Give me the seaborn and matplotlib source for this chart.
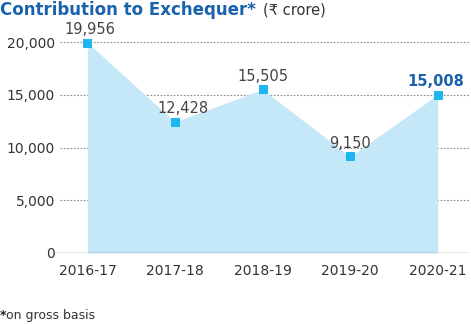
import matplotlib
matplotlib.use("Agg")
import matplotlib.pyplot as plt
import seaborn as sns
import pandas as pd

years = ["2016-17", "2017-18", "2018-19", "2019-20", "2020-21"]
values = [19956, 12428, 15505, 9150, 15008]
yticks = [0, 5000, 10000, 15000, 20000]

sns.set_theme(style="white")
plt.rcParams['font.family'] = ['DejaVu Sans']

df = pd.DataFrame({"year": years, "value": values, "x": range(len(years))})

fig = plt.figure(figsize=(4.71, 3.24), dpi=100)
ax = fig.add_axes([48/471, 1-253/324, 422/471, (253-31.5)/324])

ax.fill_between(df["x"], df["value"], 0, color="#c5e8f9", linewidth=0, zorder=1)
sns.lineplot(data=df, x="x", y="value", ax=ax, marker="s", markersize=6,
             color="#c5e8f9", linewidth=0, markerfacecolor="#1fb6ef",
             markeredgecolor="#1fb6ef", zorder=3)

ax.set_xlim(-0.45, 4.37)
ax.set_ylim(0, 21000)
for t in yticks[1:]:
    ax.axhline(t, xmin=0.028, xmax=1, color="#8a8a8a", linestyle=(0, (1.5, 1.5)), linewidth=0.8, zorder=0)
ax.axhline(0, color="#8a8a8a", linewidth=1, zorder=4)

for s in ax.spines.values():
    s.set_visible(False)
ax.set_xticks(range(len(years)))
ax.set_xticklabels(years, fontsize=10, color="#333333")
ax.set_yticks(yticks)
ax.set_yticklabels([f"{v:,}" for v in yticks], fontsize=10, color="#333333")
ax.tick_params(axis="x", length=0, pad=8)
ax.tick_params(axis="y", length=0, pad=-5)
for lab in ax.get_yticklabels():
    lab.set_horizontalalignment("right")
ax.set_xlabel("")
ax.set_ylabel("")

label_dx = [2, 6, 0, 0, -1]
for i, v in enumerate(values):
    last = i == len(values) - 1
    ax.annotate(f"{v:,}", (i, v), xytext=(label_dx[i], 4), textcoords="offset points",
                ha="center", va="bottom", fontsize=10.5,
                color="#1a62ad" if last else "#444444",
                fontweight="bold" if last else "normal", zorder=5)

fig.text(0.0, 1-10/324, "Contribution to Exchequer*", fontsize=12, fontweight="bold",
         color="#1a62ad", va="center", ha="left")
fig.text(263/471, 1-10/324, "(₹ crore)", fontsize=10.5, color="#333333", va="center", ha="left")
fig.text(0.0, 1-316/324, "*", fontsize=9, color="#222222", fontweight="bold", va="center", ha="left")
fig.text(6/471, 1-316/324, "on gross basis", fontsize=9, color="#333333", va="center", ha="left")

fig.savefig("out.png", dpi=100)
